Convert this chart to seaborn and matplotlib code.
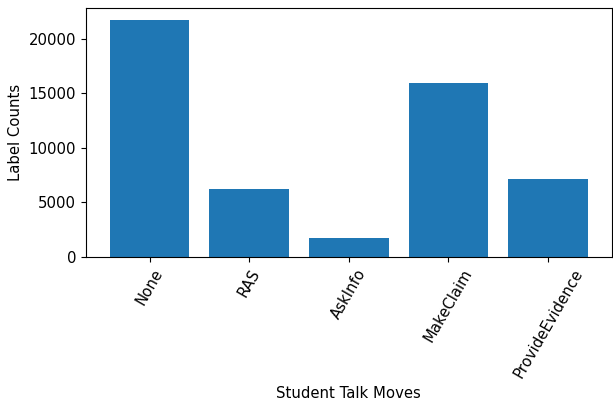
import pandas as pd
import seaborn as sns
import matplotlib.pyplot as plt

# Label counts per student talk move
moves = ["None", "RAS", "AskInfo", "MakeClaim", "ProvideEvidence"]
counts = [21740, 6210, 1735, 15890, 7120]

df = pd.DataFrame({"move": moves, "count": counts})

plt.rcParams["font.size"] = 10.75

fig, ax = plt.subplots(figsize=(6.13, 4.04), dpi=100)
sns.barplot(x="move", y="count", data=df, order=moves, color="#1f77b4",
            saturation=1, width=0.8, ax=ax)

ax.set_xlim(-0.64, 4.64)
ax.set_ylim(0, 22830)
ax.set_xlabel("Student Talk Moves")
ax.set_ylabel("Label Counts")
plt.xticks(rotation=60)

plt.subplots_adjust(left=0.140, right=0.998, top=0.981, bottom=0.364)
plt.savefig("out.png", dpi=100)
